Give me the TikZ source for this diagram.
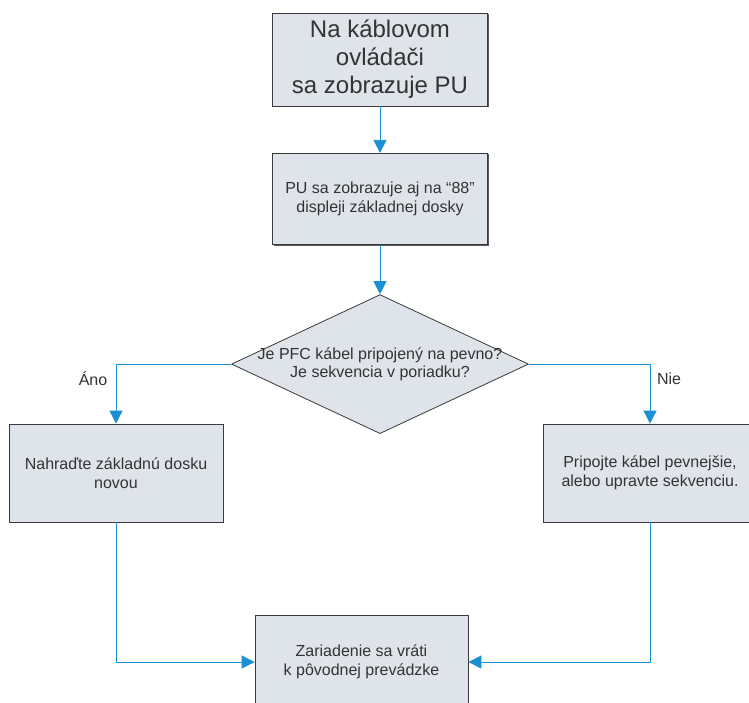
\documentclass[tikz,border=0pt]{standalone}
\usepackage{fontspec}
\setmainfont{Liberation Sans}
\usepackage{xcolor}
\usetikzlibrary{arrows.meta,positioning,shapes.geometric,shadows}
\definecolor{boxfill}{HTML}{DFE4EA}
\definecolor{boxline}{HTML}{3A3A3A}
\definecolor{flow}{HTML}{1A8FD3}
\definecolor{txt}{HTML}{333333}

\begin{document}
\begin{tikzpicture}[x=1pt, y=-1pt,
  box/.style={draw=boxline, fill=boxfill, line width=.8pt, inner sep=0pt,
              align=center, text=txt,
              general shadow={shadow xshift=1pt, shadow yshift=-1pt,
                              fill=black!65},
              font=\fontsize{16}{18.5}\selectfont},
  decision/.style={diamond, draw=boxline, fill=boxfill, line width=.8pt,
              inner sep=0pt, minimum width=297pt, minimum height=139pt},
  lab/.style={text=txt, font=\fontsize{16}{18.5}\selectfont},
  arr/.style={-{Triangle[length=13pt,width=13pt]}, draw=flow, line width=.8pt}]
\useasboundingbox (0,0) rectangle (749,702);
\node[box, minimum width=215pt, minimum height=93pt,
      font=\fontsize{24}{28}\selectfont] (cable) at (380,59.5)
  {Na káblovom\\ovládači\\sa zobrazuje PU};
\node[box, minimum width=215pt, minimum height=91.5pt,
      below=46.5pt of cable] (board)
  {PU sa zobrazuje aj na “88”\\displeji základnej dosky};
\node[decision, below=49pt of board,
      label={[lab, align=center]center:Je PFC kábel pripojený na pevno?\\
             Je sekvencia v poriadku?}] (check) {};
\node[box, minimum width=214pt, minimum height=98pt] (replace) at (116,473)
  {Nahraďte základnú dosku\\novou};
\node[box, minimum width=214pt, minimum height=98pt] (reconnect) at (650,473)
  {Pripojte kábel pevnejšie,\\alebo upravte sekvenciu.};
\node[box, minimum width=213pt, minimum height=94pt] (restored) at (361.5,662)
  {Zariadenie sa vráti\\k pôvodnej prevádzke};
% answers of the decision
\node[lab] (yes) at (93,379) {Áno};
\node[lab] (no) at (669,379) {Nie};
\draw[arr] (cable) -- (board);
\draw[arr] (board) -- (check);
\draw[arr] (check.west) -| (replace);
\draw[arr] (check.east) -| (reconnect);
\draw[arr] (replace) |- (restored);
\draw[arr] (reconnect) |- (restored);
\end{tikzpicture}
\end{document}
